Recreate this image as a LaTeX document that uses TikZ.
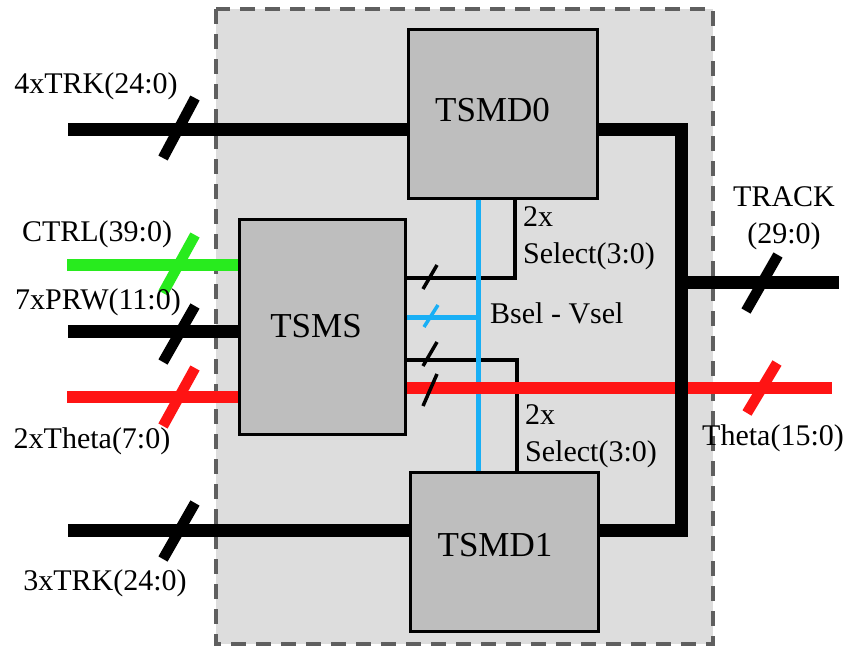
\documentclass[tikz,border=0pt]{standalone}
\usepackage{fontspec}
\setmainfont{Liberation Serif}
\usepackage{tikz}
\usetikzlibrary{positioning, calc}
\definecolor{busred}    {RGB}{255, 20,  20}
\definecolor{busgreen}  {RGB}{40,  235, 30}
\definecolor{selblue}   {RGB}{25,  175, 245}
\definecolor{areagray}  {RGB}{221, 221, 221}
\definecolor{blockgray} {RGB}{190, 190, 190}
\definecolor{edgegray}  {RGB}{95,  95,  95}

\tikzset{
	block/.style={draw, line width=3pt, fill=blockgray, inner sep=0pt,
		font=\fontsize{35}{42}\selectfont},
	bus/.style={line width=13pt, line join=miter},
	sel/.style={line width=4.5pt, line join=miter},
	bigmark/.style={line width=10.5pt},
	smallmark/.style={line width=3.5pt},
	sig/.style={inner sep=0pt, font=\fontsize{30}{37}\selectfont},
}
% slash across a bus: style, centre, half width, half height
\newcommand{\busmark}[4]{\draw[#1] ($(#2)+(-#3,#4)$) -- ($(#2)+(#3,-#4)$);}

\begin{document}
\begin{tikzpicture}[x=1pt,y=-1pt]
	\useasboundingbox (0,0) rectangle (850,646);
	\draw[edgegray, line width=3.5pt, dash pattern=on 15pt off 10pt, fill=areagray] (216,9) rectangle (713,644);

	% blocks
	\node[block, minimum width=189pt, minimum height=169pt] (tsmd0) at (502.5,113.5) {\hspace*{-20pt}\raisebox{8pt}{TSMD0}};
	\node[block, minimum width=166pt, minimum height=215pt] (tsms) at (322,326.5) {\hspace*{-12pt}TSMS};
	\node[block, minimum width=188pt, minimum height=159pt] (tsmd1) at (504,551.5) {\hspace*{-18pt}\raisebox{14pt}{TSMD1}};

	\coordinate (in4trk) at (68,129);
	\coordinate (inctrl) at (67,265);
	\coordinate (inprw) at (68,331);
	\coordinate (intheta) at (67,397);
	\coordinate (in3trk) at (68,530);
	\coordinate (outtrack) at (839,282);
	\coordinate (outtheta) at (832,388);
	\coordinate (riser) at (681,0);
	\coordinate (selA) at (515,278);
	\coordinate (selB) at (517,360);
	\coordinate (bsel) at (478,317);

	% inputs
	\draw[bus] (in4trk) -- (in4trk -| tsmd0.west);
	\draw[bus, busgreen, line width=12pt] (inctrl) -- (inctrl -| tsms.west);
	\draw[bus] (inprw) -- (inprw -| tsms.west);
	\draw[bus, busred, line width=12pt] (intheta) -- (intheta -| tsms.west);
	\draw[bus] (in3trk) -- (in3trk -| tsmd1.west);

	% selects
	\draw[sel] (selA -| tsms.east) -- (selA) -- (selA |- tsmd0.south);
	\draw[sel] (selB -| tsms.east) -- (selB) -- (selB |- tsmd1.north);
	\draw[sel, selblue, line width=5pt] (bsel -| tsms.east) -- (bsel);
	\draw[sel, selblue, line width=5pt] (bsel |- tsmd0.south) -- (bsel |- tsmd1.north);

	% outputs
	\draw[bus, busred, line width=12pt] (outtheta -| tsms.east) -- (outtheta);
	\draw[bus] (tsmd0.east |- in4trk) -- (riser |- in4trk) -- (riser |- in3trk) -- (tsmd1.east |- in3trk);
	\draw[bus] (riser |- outtrack) -- (outtrack);

	% bus widths
	\busmark{bigmark}{179,128}{16}{30}
	\busmark{bigmark, busgreen}{179,264}{16}{29}
	\busmark{bigmark}{179,334}{16}{28}
	\busmark{bigmark, busred}{179,397}{16}{29}
	\busmark{bigmark}{179,531}{16}{28}
	\busmark{bigmark}{762,283}{16}{28}
	\busmark{bigmark, busred}{762,388}{15}{25}
	\busmark{smallmark}{430,277}{7}{12}
	\busmark{smallmark, selblue}{431,316}{7}{11}
	\busmark{smallmark}{430,354}{7}{12}
	\busmark{smallmark}{430,390}{7}{16}

	% labels
	\node[sig] (l4trk) at (96,86) {4xTRK(24:0)};
	\node[sig] (lctrl) at (97,234) {CTRL(39:0)};
	\node[sig] (lprw) at (98,302) {7xPRW(11:0)};
	\node[sig] (ltheta) at (92,441) {2xTheta(7:0)};
	\node[sig] (l3trk) at (105,583) {3xTRK(24:0)};
	\node[sig, align=center] (ltrack) at (784,218) {TRACK\\(29:0)};
	\node[sig] (lthetaout) at (773,438) {Theta(15:0)};
	\node[sig, align=left, anchor=west] (lselA) at (523,238) {2x\\Select(3:0)};
	\node[sig, anchor=west] (lbsel) at (490,313) {Bsel - Vsel};
	\node[sig, align=left, anchor=west] (lselB) at (525,436) {2x\\Select(3:0)};
\end{tikzpicture}
\end{document}
